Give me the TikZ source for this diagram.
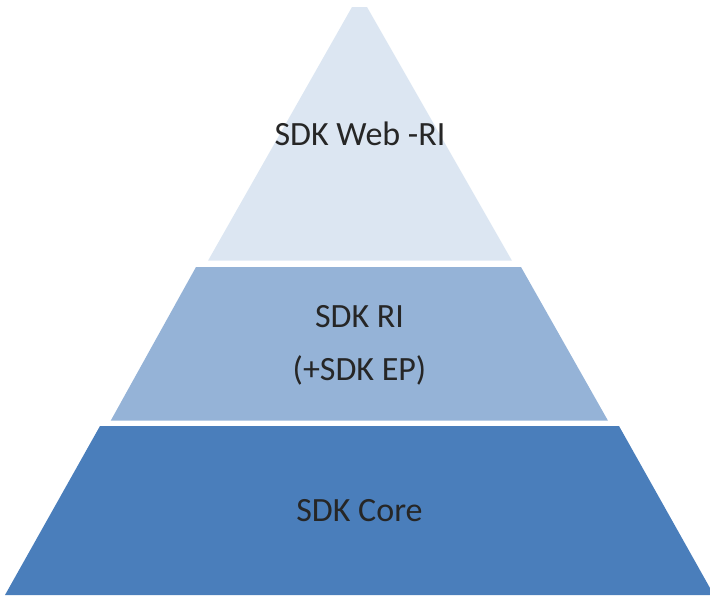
\documentclass[tikz,border=0pt]{standalone}
\usepackage{fontspec}
\setmainfont{Carlito}
\definecolor{topc}{HTML}{DCE6F2}
\definecolor{midc}{HTML}{95B3D7}
\definecolor{botc}{HTML}{4A7EBB}
\definecolor{txtc}{HTML}{262626}
\begin{document}
\begin{tikzpicture}[x=1pt,y=-1pt,
  lbl/.style={anchor=base,inner sep=0pt,text=txtc,font=\fontsize{34}{40}\selectfont}]
\useasboundingbox (0,0) rectangle (710,598);
\fill[topc] (352,7) -- (367,7) -- (512,260.7) -- (208,260.7) -- cycle;
\fill[midc] (196,267) -- (521,267) -- (608,420.7) -- (110.7,420.7) -- cycle;
\fill[botc] (100,426) -- (619,426) -- (710,588) -- (710,595) -- (5,595) -- cycle;
\node[lbl] (web) at (360,145) {SDK Web -RI};
\node[lbl] (ri) at (359.5,327) {SDK RI};
\node[lbl] (ep) at (359.5,380) {(+SDK EP)};
\node[lbl] (core) at (359.5,521) {SDK Core};
\end{tikzpicture}
\end{document}
